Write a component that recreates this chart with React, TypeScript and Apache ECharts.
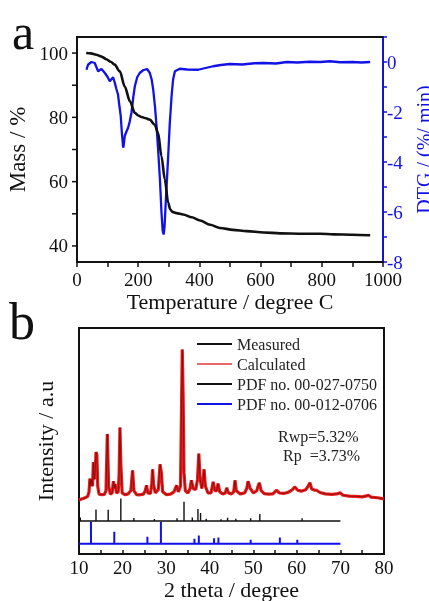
import React, { useEffect, useRef } from "react";
import * as echarts from "echarts";

// ---- Panel a: TGA / DTG ----
const massTemp = [30, 45, 63, 80, 96, 110, 123, 140, 156, 173, 189, 200, 211, 225, 238, 254, 265, 276, 287, 298, 305, 312, 325, 347, 375, 402, 435, 467, 510, 555, 610, 664, 730, 795, 838, 900, 958];
const massValue = [100, 99.9, 99.5, 98.9, 98.1, 97.3, 96.4, 94.3, 89.6, 85, 81.4, 80.6, 80.1, 79.7, 79.3, 77.7, 75.2, 67.9, 60.7, 53.4, 51.3, 50.6, 50.2, 49.8, 48.9, 47.9, 46.6, 45.6, 45.0, 44.6, 44.2, 43.9, 43.8, 43.8, 43.6, 43.5, 43.3];

const dtgTemp = [31, 36, 47, 58, 69, 80, 91, 100, 107, 118, 123, 128, 134, 138, 143, 147, 151, 153, 156, 161, 167, 172, 178, 184, 189, 197, 205, 216, 229, 238, 244, 249, 255, 260, 265, 271, 276, 280, 283, 286, 290, 294, 298, 303, 309, 314, 320, 336, 360, 396, 420, 445, 470, 500, 540, 580, 609, 650, 686, 720, 760, 795, 827, 860, 900, 930, 958];
const dtgValue = [-0.31, -0.11, 0, -0.04, -0.37, -0.28, -0.44, -0.6, -0.77, -0.61, -0.81, -1.05, -1.3, -1.7, -2.17, -2.9, -3.43, -3.3, -2.96, -2.8, -2.63, -2.4, -2.03, -1.4, -0.97, -0.6, -0.44, -0.33, -0.28, -0.44, -0.7, -1.1, -1.8, -2.57, -3.5, -4.69, -6.0, -6.75, -6.9, -6.6, -5.62, -4.7, -3.76, -2.5, -1.37, -0.7, -0.37, -0.27, -0.3, -0.31, -0.24, -0.17, -0.12, -0.08, -0.1, -0.05, -0.04, -0.06, 0, -0.02, 0.01, 0, 0.03, -0.01, 0, -0.02, 0];

const massTickValues = [40, 50, 60, 70, 80, 90, 100];

// ---- Panel b: XRD ----
const xrdAngle = [10.0, 10.5, 11.0, 11.5, 12.0, 12.3, 12.5, 12.7, 12.9, 13.1, 13.3, 13.5, 13.7, 13.9, 14.1, 14.3, 14.6, 15.2, 15.8, 16.2, 16.5, 16.8, 17.2, 17.6, 17.9, 18.1, 18.3, 18.6, 19.0, 19.2, 19.4, 19.6, 19.9, 20.5, 21.2, 21.9, 22.3, 22.6, 23.2, 24.0, 24.8, 25.2, 25.5, 25.8, 26.4, 26.7, 26.9, 27.1, 27.5, 28.2, 28.6, 28.9, 29.2, 30.0, 31.0, 31.8, 32.4, 32.8, 33.3, 33.5, 33.7, 33.9, 34.1, 34.4, 35.0, 35.5, 35.8, 36.2, 36.8, 37.2, 37.5, 37.8, 38.2, 38.5, 38.7, 39.0, 39.6, 40.3, 40.8, 41.2, 41.6, 41.9, 42.3, 43.0, 43.6, 43.9, 44.3, 45.0, 45.5, 45.8, 46.1, 47.0, 48.0, 48.5, 48.8, 49.3, 50.0, 50.8, 51.1, 51.4, 51.8, 52.5, 53.5, 54.5, 55.3, 56.0, 57.0, 58.0, 59.0, 59.5, 60.2, 61.0, 62.0, 62.6, 63.0, 63.4, 64.0, 64.5, 65.3, 66.5, 68.0, 69.2, 69.9, 70.6, 72.0, 73.5, 75.0, 76.0, 76.4, 77.0, 78.5, 80.0];
const xrdIntensity = [23.8, 24.3, 24.6, 25.0, 25.5, 27.5, 33.4, 30, 33, 30, 40.7, 33, 36, 45.1, 44, 30, 26.5, 26.2, 26.4, 28, 53.1, 30, 26.5, 27, 32.2, 29, 31, 27, 27.5, 35, 56, 40, 27, 26.3, 26.5, 28, 37, 28, 26.3, 26.2, 26.5, 28, 30.4, 27, 26.8, 31, 37.5, 31, 27, 28.5, 39.7, 36, 27.5, 26.3, 26.5, 27.5, 30.4, 27.5, 30, 60, 90.5, 70, 36, 28, 27, 29, 32.6, 29, 28.5, 33, 44.4, 33, 29, 33, 37.5, 30, 27, 27, 31.9, 28, 28, 31.2, 27.5, 26.6, 27, 29.3, 27, 26.6, 27.5, 32.6, 28, 26.6, 27, 29, 32.2, 29, 27, 28, 30, 31.5, 28, 26.7, 26.5, 26.6, 28.2, 27, 26.8, 27.3, 28.5, 29.7, 28.2, 27.8, 28.4, 30, 31.5, 28.8, 28.3, 28.2, 27.2, 26.6, 26.4, 26.6, 27.1, 26, 25.6, 25.5, 25.3, 25.7, 26, 25.2, 24.9, 24.4];

const pdf1Angle = [10.3, 13.9, 16.7, 19.6, 22.6, 27.3, 32.5, 34.1, 36.0, 37.3, 37.9, 39.2, 42.6, 44.1, 46.0, 49.4, 51.5, 61.2];
const pdf1Height = [1.5, 5.1, 5.0, 10, 1.3, 0.9, 1.2, 8.5, 1.5, 5.3, 3.5, 1.0, 0.8, 1.4, 1.0, 1.2, 3.1, 1.2];
const pdf1Base = 14.6;

const pdf2Angle = [12.75, 18.1, 25.7, 28.8, 36.5, 37.5, 41.0, 42.0, 49.4, 56.1, 60.1];
const pdf2Height = [9.8, 5.4, 3.1, 9.8, 2.2, 3.7, 2.5, 2.8, 1.8, 2.8, 1.8];
const pdf2Base = 4.5;
const pdfRange = [10, 70];

const legendNames = ["Measured", "Calculated", "PDF no. 00-027-0750", "PDF no. 00-012-0706"];

const FONT = "'Liberation Serif', 'Times New Roman', serif";
const BLACK = "#111111";
const BLUE = "#1212e6";
const RED = "#ee1c1c";

function sticks(angles: number[], heights: number[], base: number): number[][] {
  const out: number[][] = [[pdfRange[0], base]];
  angles.forEach((a, i) => {
    out.push([a, base], [a, base + heights[i]], [a, base]);
  });
  out.push([pdfRange[1], base]);
  return out;
}

export default function App() {
  const ref = useRef<HTMLDivElement>(null);
  useEffect(() => {
    if (!ref.current) return;
    const chart = echarts.init(ref.current, undefined, { renderer: "svg", width: 429, height: 601 });
    const labelStyle = { fontFamily: FONT, fontSize: 19, color: BLACK };
    const nameStyle = { fontFamily: FONT, fontSize: 22, color: BLACK };
    const axLine = (color: string) => ({ show: true, onZero: false, lineStyle: { color, width: 1.8 } });
    const lineOnly = {
      axisLine: axLine(BLACK),
      axisTick: { show: false },
      axisLabel: { show: false },
      splitLine: { show: false },
    };
    const gridFrame = { show: true, borderColor: BLACK, borderWidth: 1.8, outerBoundsMode: "none" };
    const xrd = xrdAngle.map((a, i) => [a, xrdIntensity[i]]);
    const option: any = {
      animation: false,
      grid: [
        { left: 77, top: 37, width: 306, height: 225, ...gridFrame },
        { left: 79, top: 328, width: 305, height: 226, ...gridFrame },
      ],
      legend: {
        left: 197,
        top: 336,
        padding: 0,
        orient: "vertical",
        itemWidth: 35,
        itemHeight: 2,
        itemGap: 4,
        selectedMode: false,
        textStyle: { fontFamily: FONT, fontSize: 16, color: "#222", lineHeight: 16 },
        data: [
          { name: legendNames[0], icon: "rect", itemStyle: { color: BLACK } },
          { name: legendNames[1], icon: "rect", itemStyle: { color: "#e86a6a" } },
          { name: legendNames[2], icon: "rect", itemStyle: { color: BLACK } },
          { name: legendNames[3], icon: "rect", itemStyle: { color: BLUE } },
        ],
      },
      graphic: [
        { type: "text", left: 12, top: 7, style: { text: "a", font: `50px ${FONT}`, fill: BLACK } },
        { type: "text", left: 9, top: 295, style: { text: "b", font: `52px ${FONT}`, fill: BLACK } },
        { type: "text", left: 278, top: 428, style: { text: "Rwp=5.32%", font: `16px ${FONT}`, fill: "#222" } },
        { type: "text", left: 283, top: 447, style: { text: "Rp\u00a0\u00a0=3.73%", font: `16px ${FONT}`, fill: "#222" } },
      ],
      xAxis: [
        {
          gridIndex: 0, type: "value", min: 0, max: 1000, interval: 100, position: "bottom",
          axisLine: axLine(BLACK),
          axisTick: { show: true, inside: false, length: 5, lineStyle: { color: BLACK, width: 1.5 } },
          axisLabel: { ...labelStyle, margin: 8, formatter: (v: number) => (v % 200 === 0 ? String(v) : "") },
          splitLine: { show: false },
          name: "Temperature / degree C", nameLocation: "middle", nameGap: 28, nameTextStyle: nameStyle,
        },
        { gridIndex: 0, type: "value", min: 0, max: 1000, position: "top", ...lineOnly },
        {
          gridIndex: 1, type: "value", min: 10, max: 80, interval: 5, position: "bottom",
          axisLine: axLine(BLACK),
          axisTick: { show: true, inside: true, length: 4, lineStyle: { color: BLACK, width: 1.5 } },
          axisLabel: { ...labelStyle, margin: 4, formatter: (v: number) => (v % 10 === 0 ? String(v) : "") },
          splitLine: { show: false },
          name: "2 theta / degree", nameLocation: "middle", nameGap: 24, nameTextStyle: nameStyle,
        },
        { gridIndex: 1, type: "value", min: 10, max: 80, position: "top", ...lineOnly },
      ],
      yAxis: [
        {
          gridIndex: 0, type: "value", min: 35, max: 105, interval: 5, position: "left",
          axisLine: axLine(BLACK),
          axisTick: { show: false },
          axisLabel: { ...labelStyle, margin: 9, formatter: (v: number) => (v % 20 === 0 ? String(v) : "") },
          splitLine: { show: false },
          name: "Mass / %", nameLocation: "middle", nameRotate: 90, nameGap: 35, nameTextStyle: { ...nameStyle, fontSize: 23 },
        },
        {
          gridIndex: 0, type: "value", min: -8, max: 1, interval: 1, position: "right",
          axisLine: axLine(BLUE),
          axisTick: { show: true, inside: false, length: 4, lineStyle: { color: BLUE, width: 1.5 } },
          axisLabel: { ...labelStyle, color: BLUE, margin: 4, formatter: (v: number) => (v % 2 === 0 ? String(v) : "") },
          splitLine: { show: false },
          name: "DTG / (%/ min)", nameLocation: "middle", nameRotate: 90, nameGap: 20, nameTextStyle: { ...nameStyle, fontSize: 20, color: BLUE },
        },
        {
          gridIndex: 1, type: "value", min: 0, max: 100, position: "left",
          ...lineOnly,
          name: "Intensity / a.u", nameLocation: "middle", nameRotate: 90, nameGap: 23, nameTextStyle: nameStyle,
        },
        { gridIndex: 1, type: "value", min: 0, max: 100, position: "right", ...lineOnly },
      ],
      series: [
        {
          name: "Mass", type: "line", xAxisIndex: 0, yAxisIndex: 0, symbol: "none", smooth: 0.3, smoothMonotone: "x",
          data: massTemp.map((t, i) => [t, massValue[i]]),
          lineStyle: { color: BLACK, width: 2.6 }, z: 3,
        },
        {
          name: "DTG", type: "line", xAxisIndex: 0, yAxisIndex: 1, symbol: "none",
          data: dtgTemp.map((t, i) => [t, dtgValue[i]]),
          lineStyle: { color: BLUE, width: 2.3 }, z: 2,
        },
        {
          name: "massTicks", type: "custom", xAxisIndex: 0, yAxisIndex: 0, clip: false, silent: true, z: 5,
          data: massTickValues.map((v) => [0, v]),
          renderItem: (_params: any, api: any) => {
            const p = api.coord([api.value(0), api.value(1)]);
            return {
              type: "line",
              shape: { x1: p[0] - 5, y1: p[1], x2: p[0], y2: p[1] },
              style: { stroke: BLACK, lineWidth: 1.5 },
            };
          },
        },
        {
          name: legendNames[1], type: "line", xAxisIndex: 2, yAxisIndex: 2, symbol: "none",
          data: xrd, lineStyle: { color: RED, width: 3.2 }, itemStyle: { color: RED }, z: 2,
        },
        {
          name: legendNames[0], type: "line", xAxisIndex: 2, yAxisIndex: 2, symbol: "none",
          data: xrd, lineStyle: { color: "#6a0808", width: 0.7 }, itemStyle: { color: BLACK }, z: 3,
        },
        {
          name: legendNames[2], type: "line", xAxisIndex: 2, yAxisIndex: 2, symbol: "none",
          data: sticks(pdf1Angle, pdf1Height, pdf1Base), lineStyle: { color: BLACK, width: 1.4 }, itemStyle: { color: BLACK },
        },
        {
          name: legendNames[3], type: "line", xAxisIndex: 2, yAxisIndex: 2, symbol: "none",
          data: sticks(pdf2Angle, pdf2Height, pdf2Base), lineStyle: { color: BLUE, width: 2 }, itemStyle: { color: BLUE },
        },
      ],
    };
    chart.setOption(option);
    return () => chart.dispose();
  }, []);
  return <div ref={ref} style={{ position: "fixed", left: 0, top: 0, width: 429, height: 601 }} />;
}
